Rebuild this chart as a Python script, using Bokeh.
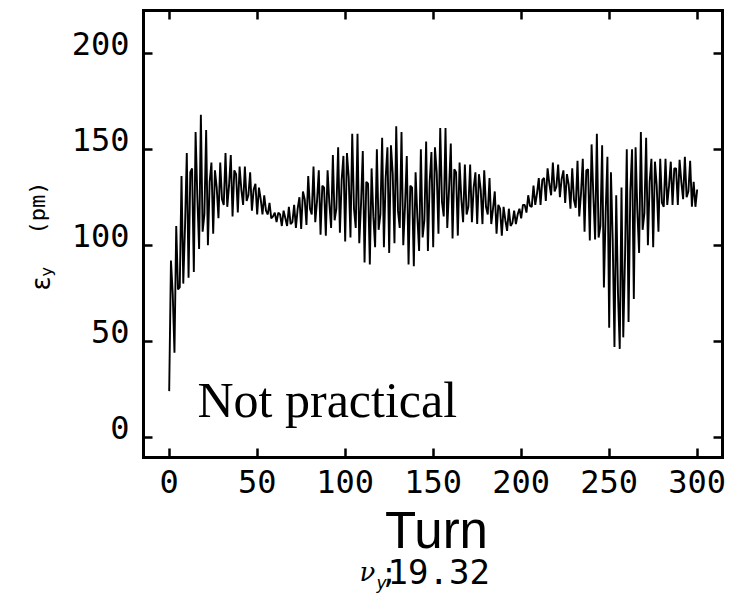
import math
from bokeh.plotting import figure
from bokeh.models import Range1d, LinearAxis, Label, FixedTicker
from bokeh.embed import file_html
from bokeh.resources import INLINE

turns = list(range(301))
eps_y = [
    24, 92, 75, 44, 110, 77, 78, 136, 80, 110, 148, 83, 138, 140, 86, 159, 125, 98, 168, 107, 116, 160, 100, 133, 143,
    106, 139, 130, 114, 143, 124, 121, 148, 120, 131, 147, 115, 139, 137, 117, 141, 129, 121, 141, 123, 126, 138, 118, 129, 132,
    116, 130, 124, 116, 126, 118, 116, 122, 114, 115, 117, 112, 117, 116, 110, 118, 114, 110, 120, 111, 112, 121, 109, 119, 125,
    108.5, 128, 124, 110.5, 136, 119, 116, 141, 112, 123, 139, 105.5, 131, 130, 105, 139, 122, 109, 147, 113, 119, 151, 106.5, 134, 146.5,
    102, 148, 135.5, 104, 158, 119, 109, 158, 101, 121.5, 149, 91, 133, 132, 90, 140, 115, 99, 150, 108, 116, 156, 99, 135, 151,
    96, 152, 137.5, 101, 162, 118, 109, 159, 100, 120.5, 146.5, 90, 131, 130, 89, 138, 115, 97, 150, 104, 113, 154, 97, 133, 148.5,
    99, 151, 138, 106, 161, 122.5, 115, 161, 109, 129, 153, 103.5, 139.5, 138, 105, 143, 124, 112, 142, 116, 120, 142, 112, 130, 138,
    111, 137, 129, 111, 139, 120, 116, 135, 111, 119, 128, 106, 121, 119, 105, 120, 113, 107.5, 119, 110, 111.5, 118, 111, 116, 119,
    114, 121, 121, 117, 126, 120.5, 120, 131, 121, 127, 135, 121, 134, 135, 123, 140, 132, 126, 143, 128, 130.5, 142, 125, 134.5, 139,
    122, 137, 131.5, 119, 140, 123.5, 119.5, 144, 115, 127, 145, 107, 139, 139.5, 102.5, 152.5, 126, 103, 158, 104, 110, 152, 78, 117, 146,
    57, 138, 103, 47, 126, 75, 46, 130, 52, 94, 150, 60, 128, 150, 72, 151, 118, 96, 159, 108, 116.5, 156, 100, 133, 145,
    99, 143.5, 131, 107, 145, 122, 120, 145, 121, 131, 143.5, 121, 140, 140, 121, 144.5, 133, 124, 146, 125, 128, 144, 120, 133, 120, 129,
]
x_ticks = [0, 50, 100, 150, 200, 250, 300]
y_ticks = [0, 50, 100, 150, 200]
y_tick_labels = ["0", "50", "100", "150", "200"]

# plot box limits in data units
X_LO, X_HI = -14.6, 314.2
Y_LO, Y_HI = -10.4, 222.2
LABEL_RAISE = 5.2  # y tick labels sit ~10 px above their ticks in the original

W, H = 731, 594
p = figure(width=W, height=H,
           x_range=Range1d(-95.85, 319.5), y_range=Range1d(-81.93, 227.45),
           output_backend="svg", toolbar_location=None, min_border=0)
p.grid.visible = False
p.outline_line_color = None
p.background_fill_color = "white"
p.border_fill_color = "white"

p.line(turns, eps_y, color="black", line_width=1.9)

def style_axis(ax, ticks, loc, bounds, show_labels):
    ax.ticker = FixedTicker(ticks=ticks)
    ax.fixed_location = loc
    ax.bounds = bounds
    ax.major_tick_in = 9
    ax.major_tick_out = 0
    ax.minor_tick_in = 0
    ax.minor_tick_out = 0
    ax.major_tick_line_width = 2.5
    ax.major_tick_line_color = "black"
    ax.axis_line_width = 3
    ax.axis_line_color = "black"
    ax.axis_line_cap = "square"
    if show_labels:
        ax.major_label_text_font = "DejaVu Sans Mono"
        ax.major_label_text_font_size = "32px"
        ax.major_label_text_color = "black"
    else:
        ax.major_label_text_color = None
        ax.major_label_standoff = 0

style_axis(p.xaxis[0], x_ticks, Y_LO, (X_LO, X_HI), True)
p.xaxis[0].major_label_standoff = 13
style_axis(p.yaxis[0], y_ticks, X_LO, (Y_LO, Y_HI), False)

ylab = LinearAxis()
style_axis(ylab, [v + LABEL_RAISE for v in y_ticks], X_LO, (Y_LO, Y_HI), True)
ylab.major_label_overrides = {v + LABEL_RAISE: s for v, s in zip(y_ticks, y_tick_labels)}
ylab.major_tick_line_color = None
ylab.axis_line_color = None
ylab.major_label_standoff = 14
p.add_layout(ylab, "left")

ax_r = LinearAxis()
style_axis(ax_r, y_ticks, X_HI, (Y_LO, Y_HI), False)
p.add_layout(ax_r, "right")
ax_t = LinearAxis()
style_axis(ax_t, x_ticks, Y_HI, (X_LO, X_HI), False)
p.add_layout(ax_t, "above")

SHIFT = 0.33  # empirical baseline correction, in em

def slabel(text, px, py, size, font="DejaVu Sans Mono", style="normal", align="left"):
    py = py - SHIFT * size
    lab = Label(x=px, y=H - py, x_units="screen", y_units="screen",
                text=text, text_font=font, text_font_size=f"{size}px", text_font_style=style,
                text_color="black", text_align=align, text_baseline="alphabetic")
    p.add_layout(lab)

def vlabel(text, px, py, size, font="DejaVu Sans"):
    """Text rotated to read bottom-to-top, starting at (px, py), centred across px."""
    lab = Label(x=px, y=H - py, x_units="screen", y_units="screen", angle=math.pi / 2,
                text=text, text_font=font, text_font_size=f"{size}px",
                text_color="black", text_align="left", text_baseline="middle")
    p.add_layout(lab)

# y axis title: epsilon_y (pm)
vlabel("ε", 40, 290, 26)
vlabel("y", 46, 276, 16)
vlabel("(pm)", 37, 234, 22, font="DejaVu Sans Mono")

# annotation inside the plot
slabel("Not practical", 197, 416, 50, font="Liberation Serif")

# x axis title and tune note
slabel("Turn", 436, 547, 51, font="Liberation Sans", align="center")
slabel("ν", 359, 580, 26, font="DejaVu Serif", style="italic")
slabel("y", 376, 588, 17, font="DejaVu Sans", style="italic")
slabel(";", 380, 582, 28)
slabel("19.32", 387, 582, 34)

open("out.html", "w").write(file_html(p, INLINE))
